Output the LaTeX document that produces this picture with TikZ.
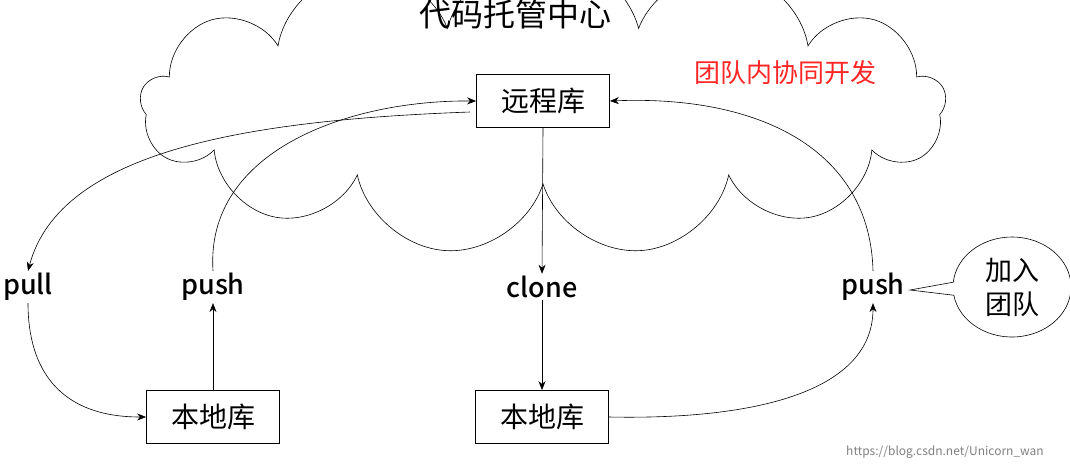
\documentclass[tikz,border=0pt]{standalone}
\usepackage{fontspec}
\setmainfont{Noto Sans CJK SC}
\newfontfamily\medfont{Noto Sans CJK SC Medium}
\usetikzlibrary{shapes.symbols,shapes.callouts,arrows.meta}
\begin{document}
\begin{tikzpicture}[x=1pt,y=-1pt,semithick,
  box/.style={draw,thick,font=\fontsize{28}{30}\selectfont,minimum width=133pt,minimum height=53pt,inner sep=0pt},
  lbl/.style={font=\medfont\fontsize{27}{30}\selectfont,inner sep=2pt},
  arr/.style={-{Stealth[length=9pt,width=7pt]}}]
\useasboundingbox (0,0) rectangle (1070,467);
\node[cloud,draw,cloud puffs=13,aspect=2.8,minimum width=805pt,minimum height=300pt] (cloud) at (543,105) {};
\node[font=\fontsize{32}{34}\selectfont] (title) at (515,14) {代码托管中心};
\node[font=\fontsize{26}{28}\selectfont,text=red!85!white] (team) at (785,73) {团队内协同开发};
\node[box] (remote) at (543,101) {远程库};
\node[box] (localL) at (213,417) {本地库};
\node[box] (localR) at (542,417) {本地库};
\node[lbl] (pull) at (28,287) {pull};
\node[lbl] (pushL) at (213,287) {push};
\node[lbl] (clone) at (542,287) {clone};
\node[lbl] (pushR) at (873,287) {push};
\node[ellipse callout,draw,fill=white,font=\fontsize{27}{34}\selectfont,align=center,minimum width=118pt,minimum height=100pt,inner sep=0pt,callout absolute pointer={(910,290)}] (join) at (1012,287) {加入\\团队};
\draw[arr] (remote.south) -- (clone.north);
\draw[arr] (clone.south) -- (localR.north);
\draw[arr] (localL.north) -- (pushL.south);
\draw[arr] (pull.south) .. controls (28,370) and (60,417) .. (localL.west);
\draw[arr] (localR.east) .. controls (760,420) and (873,390) .. (pushR.south);
\draw[arr] (pushL.north) .. controls (205,150) and (350,100) .. (remote.west);
\coordinate (rw) at (470,112);
\draw[arr] (rw) .. controls (250,120) and (60,150) .. (pull.north);
\draw[arr] (pushR.north) .. controls (870,150) and (760,95) .. (remote.east);
\node[font=\fontsize{12}{14}\selectfont,text=gray] (wm) at (945,452) {https://blog.csdn.net/Unicorn\_wan};
\end{tikzpicture}
\end{document}
